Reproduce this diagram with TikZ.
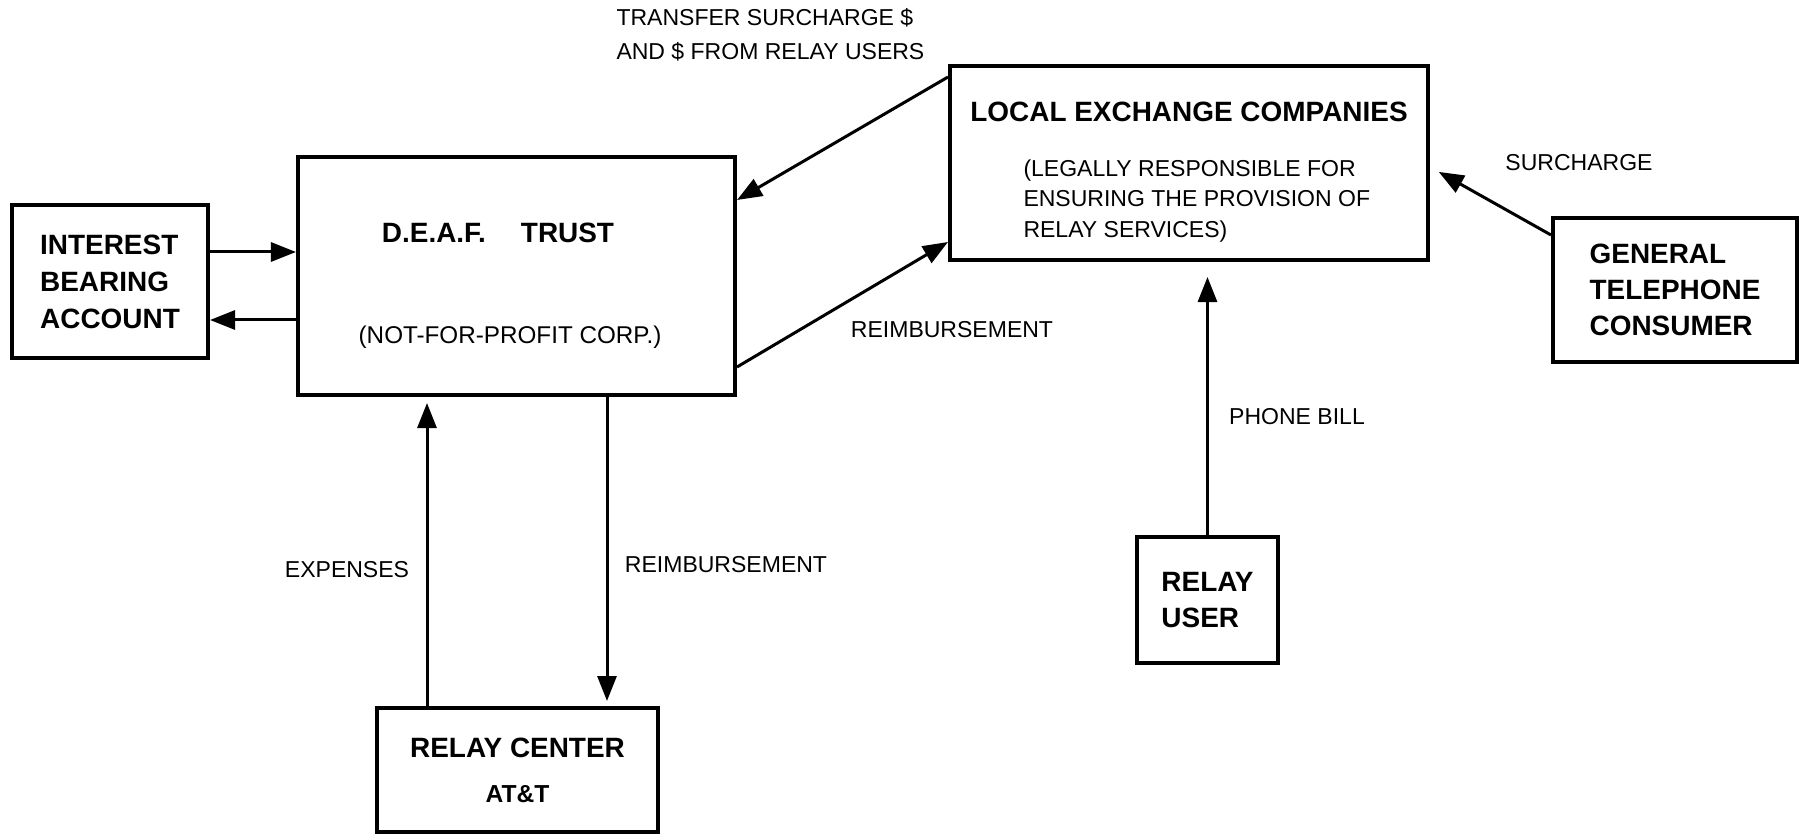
\documentclass[tikz,border=0pt]{standalone}
\usepackage{fontspec}
\setmainfont{Liberation Sans}
\usetikzlibrary{arrows.meta}

\newcommand\boxtextfont{\bfseries\fontsize{15.9}{21}\selectfont}
\newcommand\flowfont{\fontsize{13.1}{17.6}\selectfont}

\begin{document}
\begin{tikzpicture}[x=0.2mm,y=-0.2mm,->,>={Triangle[length=5mm,width=3.8mm]},line width=0.6mm,
  main box/.style={draw,line width=0.8mm,inner sep=0pt,font=\boxtextfont},
  flow label/.style={inner sep=0pt,font=\flowfont}]

  \useasboundingbox (0,0) rectangle (1799,840);

  % boxes
  \node[main box,minimum width=39.2mm,minimum height=30.6mm,align=left] (acct) at (110,281.5)
    {INTEREST\\BEARING\\ACCOUNT};
  \node[main box,minimum width=87.4mm,minimum height=47.6mm] (trust) at (516.5,276) {};
  \node[main box,minimum width=95.6mm,minimum height=38.8mm] (lec) at (1189,163) {};
  \node[main box,minimum width=48.8mm,minimum height=28.8mm,align=left,
    font=\bfseries\fontsize{15.9}{20.4}\selectfont] (gtc) at (1675,290)
    {GENERAL\\TELEPHONE\\CONSUMER};
  \node[main box,minimum width=28.2mm,minimum height=25.2mm,align=left] (user) at (1207.5,600)
    {RELAY\\USER};
  \node[main box,minimum width=56.2mm,minimum height=24.8mm,align=center,
    font=\bfseries\fontsize{15.9}{25.6}\selectfont] (relay) at (517.5,770)
    {RELAY CENTER\\{\fontsize{14}{16}\selectfont AT\&T}};

  % texts inside the large boxes
  \node[inner sep=0pt,font=\boxtextfont] (trusttitle) at (498,233) {D.E.A.F.\hspace{7mm}TRUST};
  \node[inner sep=0pt,font=\fontsize{13.8}{16}\selectfont] (trustnote) at (510,337) {(NOT-FOR-PROFIT CORP.)};
  \node[inner sep=0pt,font=\boxtextfont] (lectitle) at (1189,112) {LOCAL EXCHANGE COMPANIES};
  \node[flow label,anchor=west,align=left] (lecnote) at (1022,201)
    {(LEGALLY RESPONSIBLE FOR\\ENSURING THE PROVISION OF\\RELAY SERVICES)};

  % flow labels
  \node[flow label,anchor=west,align=left,font=\fontsize{13.1}{19.4}\selectfont] (transfer) at (615,35)
    {TRANSFER SURCHARGE \$\\AND \$ FROM RELAY USERS};
  \node[flow label] (reimblec) at (952,330) {REIMBURSEMENT};
  \node[flow label] (surcharge) at (1579,163) {SURCHARGE};
  \node[flow label] (phonebill) at (1297,417) {PHONE BILL};
  \node[flow label] (expenses) at (347,570) {EXPENSES};
  \node[flow label] (reimbrelay) at (726,565) {REIMBURSEMENT};

  \path
    (acct.east |- 0,252) edge (trust.west |- 0,252)
    (trust.west |- 0,320) edge (acct.east |- 0,320)
    (lec.west |- 0,77) edge (trust.east |- 0,200)
    (trust.east |- 0,367) edge (lec.west |- 0,242)
    (gtc.west |- 0,235) edge [shorten >=2mm] (lec.east |- 0,167)
    (user.north) edge [shorten >=3mm] (lec.south -| user.north)
    (relay.north -| 427,0) edge [shorten >=1.2mm] (trust.south -| 427,0)
    (trust.south -| 607,0) edge [shorten >=1mm] (relay.north -| 607,0);
\end{tikzpicture}
\end{document}
